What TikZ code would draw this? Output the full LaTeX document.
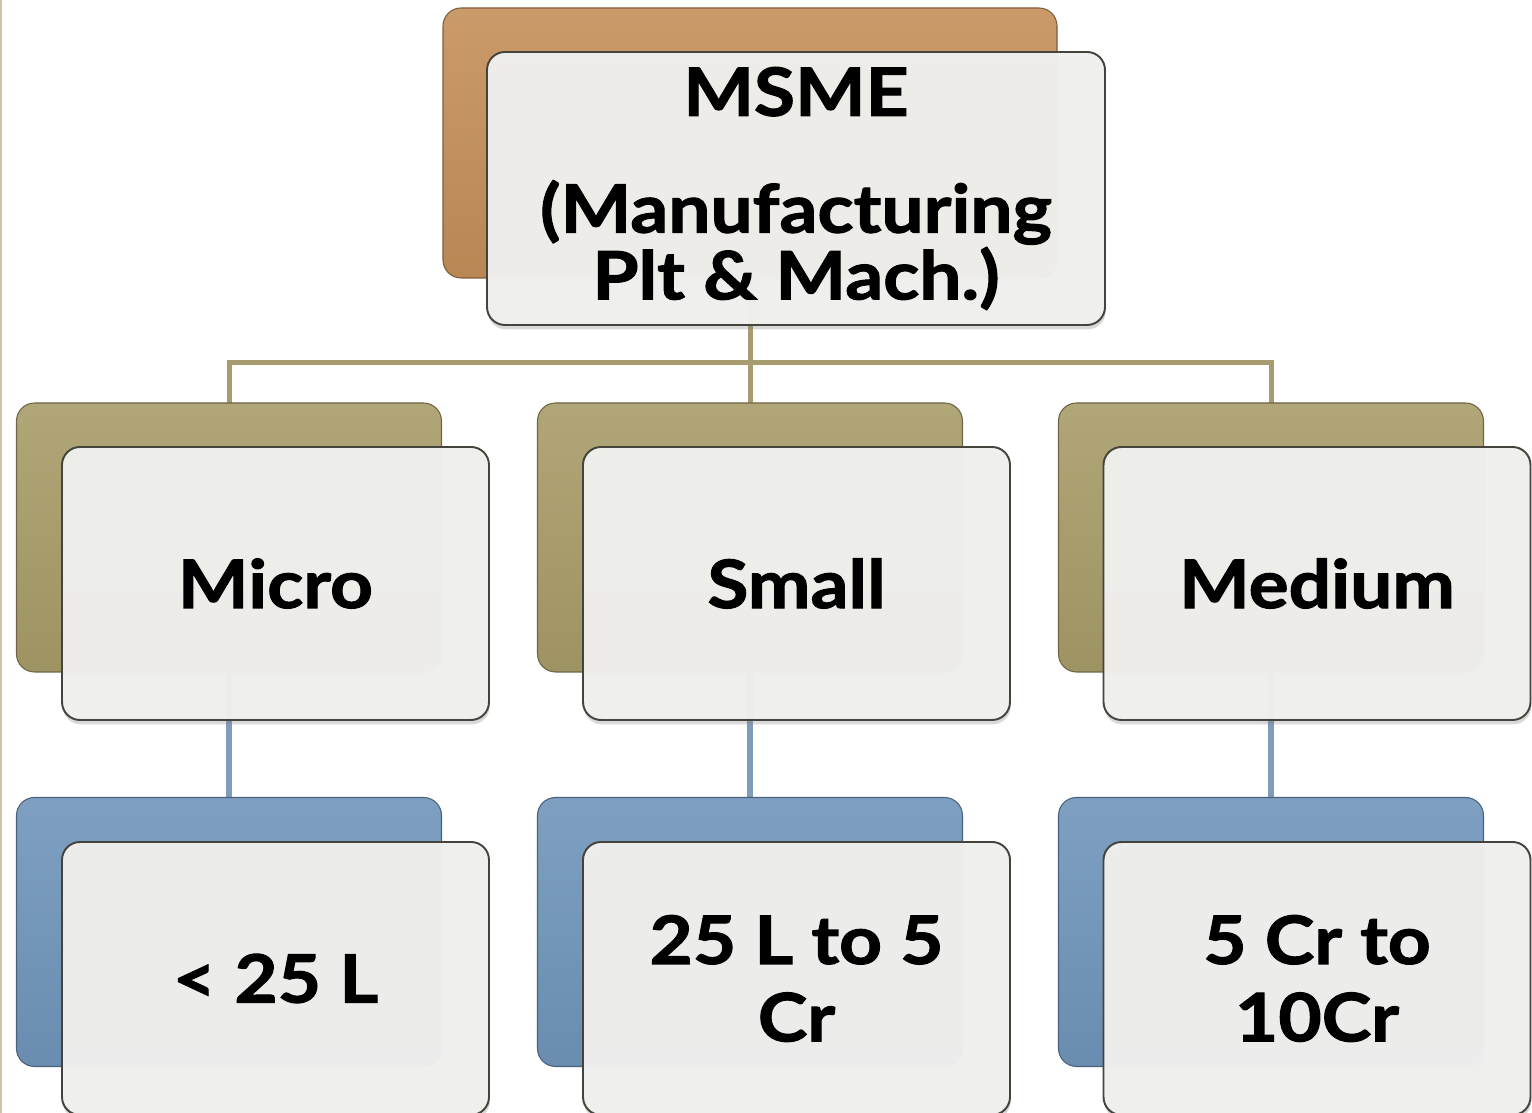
\documentclass[tikz,border=0pt]{standalone}
\usepackage{fontspec}
\setmainfont{Lato}[BoldFeatures={FakeBold=1.6, FakeStretch=1.12}]
\usetikzlibrary{shadows}

\definecolor{copper}{HTML}{C48F59}
\definecolor{olive}{HTML}{A89C68}
\definecolor{steel}{HTML}{7095BB}
\definecolor{boxline}{HTML}{45443C}
\definecolor{frontfill}{HTML}{F0F0EE}
\definecolor{tanline}{HTML}{A79C70}
\definecolor{blueline}{HTML}{7F9CBB}
\definecolor{frame}{HTML}{CFC4A4}

\tikzset{
  backbox/.style={rounded corners=0.36cm, draw=#1!65!black, line width=0.6pt,
    top color=#1!90!white, bottom color=#1!94!black,
    minimum width=8.5cm, minimum height=5.38cm},
  frontbox/.style={rounded corners=0.36cm, draw=boxline, line width=1.1pt,
    fill=frontfill, fill opacity=0.97, text opacity=1,
    minimum width=8.54cm, minimum height=5.46cm, align=center,
    font=\fontsize{38}{44}\selectfont\bfseries,
    drop shadow={opacity=0.3, shadow xshift=0.4pt, shadow yshift=-2.5pt}},
  tanconn/.style={draw=tanline, line width=0.1cm},
  blueconn/.style={draw=blueline, line width=0.12cm},
}

\begin{document}
\begin{tikzpicture}
  \useasboundingbox (0,0) rectangle (30.64,22.26);

  % Slide frame.
  \draw[frame, line width=0.05cm] (0.02,0) -- (0.02,22.26);

  % Draw the connectors.
  \coordinate (bus) at (15,15);
  \node[inner sep=0, minimum width=12.28cm, minimum height=5.4cm] (msme_back) at (15,19.40) {};
  \node[inner sep=0, minimum width=8.5cm, minimum height=5.38cm] (micro_back) at (4.58,11.51) {};
  \node[inner sep=0, minimum width=8.5cm, minimum height=5.38cm] (small_back) at (15,11.51) {};
  \node[inner sep=0, minimum width=8.5cm, minimum height=5.38cm] (medium_back) at (25.42,11.51) {};
  \node[inner sep=0, minimum width=8.5cm, minimum height=5.38cm] (micro_val_back) at (4.58,3.62) {};
  \node[inner sep=0, minimum width=8.5cm, minimum height=5.38cm] (small_val_back) at (15,3.62) {};
  \node[inner sep=0, minimum width=8.5cm, minimum height=5.38cm] (medium_val_back) at (25.42,3.62) {};
  % Top -> categories.
  \draw[tanconn] (msme_back.south) -- (small_back.north);
  \draw[tanconn] (micro_back.north) |- (bus) -| (medium_back.north);
  % Categories -> limits.
  \draw[blueconn] (micro_back.south) -- (micro_val_back.north);
  \draw[blueconn] (small_back.south) -- (small_val_back.north);
  \draw[blueconn] (medium_back.south) -- (medium_val_back.north);

  % Draw the back plates.
  \node[backbox=copper, minimum width=12.28cm, minimum height=5.4cm] at (msme_back) {};
  \node[backbox=olive] at (micro_back) {};
  \node[backbox=olive] at (small_back) {};
  \node[backbox=olive] at (medium_back) {};
  \node[backbox=steel] at (micro_val_back) {};
  \node[backbox=steel] at (small_val_back) {};
  \node[backbox=steel] at (medium_val_back) {};

  % Draw the front cards.
  \node[frontbox, minimum width=12.36cm, font=\fontsize{38}{38}\selectfont\bfseries] (msme) at (15.92,18.49)
    {MSME\\[1cm](Manufacturing\\Plt \& Mach.)};
  \node[frontbox] (micro) at (5.51,10.59) {Micro};
  \node[frontbox] (small) at (15.93,10.59) {Small};
  \node[frontbox] (medium) at (26.34,10.59) {Medium};
  \node[frontbox] (micro_val) at (5.51,2.69) {< 25 L};
  \node[frontbox] (small_val) at (15.93,2.69) {25 L to 5\\Cr};
  \node[frontbox] (medium_val) at (26.34,2.69) {5 Cr to\\10Cr};
\end{tikzpicture}
\end{document}
